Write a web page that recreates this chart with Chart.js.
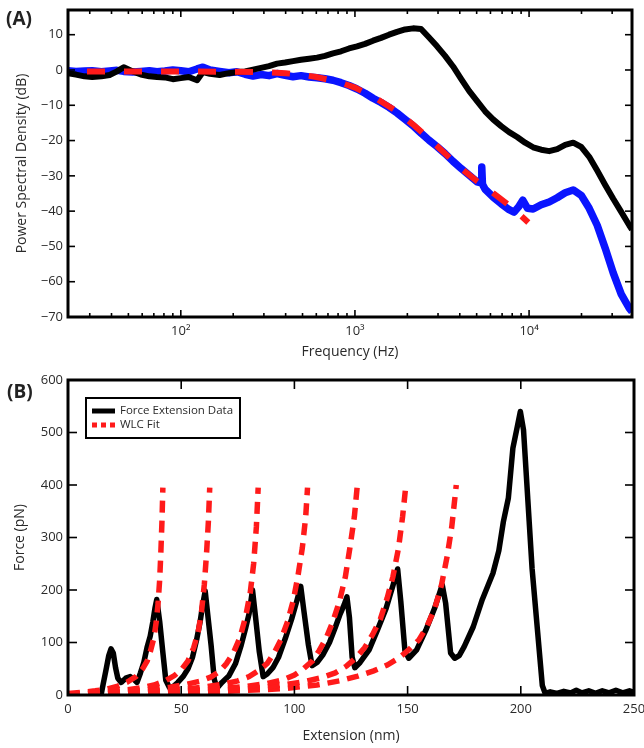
<!DOCTYPE html>
<html>
<head>
<meta charset="utf-8">
<title>PSD and force extension</title>
<script src="https://cdn.jsdelivr.net/npm/chart.js@4.4.1/dist/chart.umd.min.js"></script>
<style>
  html, body { margin: 0; padding: 0; background: #fff; }
  body { width: 644px; height: 748px; position: relative; overflow: hidden; font-family: 'Open Sans', sans-serif; }
  .panel { position: absolute; left: 0; width: 644px; }
  #panelA { top: 0; height: 370px; }
  #panelB { top: 370px; height: 378px; }
  .tag { position: absolute; font-weight: bold; font-size: 19px; line-height: 20px; color: #222; }
</style>
</head>
<body>
<div class="panel" id="panelA"><canvas id="psdChart" width="644" height="370"></canvas></div>
<div class="panel" id="panelB"><canvas id="forceChart" width="644" height="378"></canvas></div>
<div class="tag" style="left:6px; top:8px">(A)</div>
<div class="tag" style="left:7px; top:381px">(B)</div>
<script>
'use strict';

// --- panel A: power spectral density ---
const blackFreq = [22.5, 25, 28, 31, 35, 39, 43, 47, 53, 59, 66, 73, 81, 90, 100, 111, 124, 134, 147, 167,
    189, 210, 234, 260, 289, 321, 357, 397, 441, 490, 545, 606, 673, 748, 832, 925, 1028, 1143, 1270, 1412,
    1570, 1745, 1940, 2156, 2397, 2665, 2962, 3293, 3661, 4070, 4524, 5030, 5591, 6216, 6910, 7682, 8540, 9493, 10553, 11732,
    13042, 14499, 16118, 17918, 19919, 22143, 24616, 27365, 30421, 33818, 37595, 39000];
const blackDb = [-0.9, -1.3, -1.8, -2.0, -1.8, -1.4, -0.4, 0.8, -0.4, -1.3, -1.8, -2.0, -2.1, -2.6, -2.3, -2.0, -2.9, -0.6, -1.1, -1.4,
    -0.9, -0.6, -0.4, 0.1, 0.6, 1.1, 1.8, 2.1, 2.5, 2.9, 3.2, 3.5, 4.0, 4.7, 5.3, 6.1, 6.7, 7.4, 8.3, 9.1,
    10.0, 10.8, 11.5, 11.8, 11.6, 9.2, 6.7, 4.0, 1.0, -2.5, -5.9, -8.8, -11.7, -14.0, -15.9, -17.6, -19.0, -20.6, -21.9, -22.6,
    -23.0, -22.4, -21.2, -20.6, -21.8, -24.6, -28.5, -32.6, -36.5, -40.2, -44.0, -45.2];

const blueFreq = [22.5, 25, 28, 31, 35, 39, 43, 47, 53, 59, 66, 73, 81, 90, 100, 111, 124, 134, 147, 167,
    189, 210, 234, 260, 289, 321, 357, 397, 441, 490, 545, 606, 673, 748, 832, 925, 1028, 1143, 1270, 1412,
    1570, 1745, 1940, 2156, 2397, 2665, 2962, 3293, 3661, 4070, 4524, 5030, 5300, 5350, 5400, 5591, 6216, 6910, 7682, 8200,
    8700, 9200, 9800, 10553, 11732, 13042, 14499, 16118, 17918, 19919, 22143, 24616, 27365, 30421, 33818, 37595, 39000];
const blueDb = [-0.2, -0.4, -0.3, -0.2, -0.5, -0.3, -0.1, -0.4, -0.6, -0.4, -0.2, -0.5, -0.3, 0.0, -0.2, -0.5, 0.3, 0.8, 0.0, -0.4,
    -0.8, -0.5, -1.2, -1.7, -1.3, -1.6, -1.0, -1.5, -1.9, -1.6, -2.0, -2.2, -2.5, -2.9, -3.6, -4.4, -5.4, -6.6, -8.0, -9.2,
    -10.6, -12.2, -14.0, -15.8, -17.9, -19.9, -21.7, -23.7, -25.9, -27.9, -29.8, -31.7, -32.0, -27.5, -32.4, -33.8, -36.0, -37.9, -39.6, -40.3,
    -38.8, -36.9, -39.2, -39.4, -38.2, -37.4, -36.2, -34.8, -34.0, -35.5, -39.2, -44.0, -50.5, -57.5, -63.5, -67.5, -68.5];

const fitFreq = [22.5, 50, 100, 200, 300, 400, 500, 600, 800, 1000, 1300, 1700, 2200, 3000, 4000, 5000, 6500, 8000, 9900];
const fitDb = [-0.4, -0.4, -0.4, -0.5, -0.6, -0.9, -1.4, -2.0, -3.3, -5.0, -7.8, -11.4, -15.8, -21.8, -27.6, -31.4, -35.6, -39.0, -43.2];

const freqTicks = [100, 1000, 10000];
const psdTicks = [-70, -60, -50, -40, -30, -20, -10, 0, 10];

// --- panel B: force extension ---
const forceData = [[14.6, 0], [15.5, 20], [16.8, 48], [18, 75], [19, 88], [20, 80], [21, 52], [22, 32], [23.5, 24], [25.5, 32],
    [27.5, 35], [29, 30], [30.5, 24], [32, 42], [33.5, 62], [35, 92], [36.3, 112], [37.5, 140], [38.4, 165], [39.2, 182],
    [40.5, 140], [41.8, 85], [43.2, 28], [44.8, 14], [46.5, 16], [48.5, 24], [51, 36], [53, 50], [55, 72], [56.8, 105],
    [58.3, 138], [59.5, 172], [60.6, 198], [61.8, 150], [63.2, 95], [64.6, 30], [65.8, 13], [68, 24], [71, 36], [74, 60],
    [76.5, 95], [78.5, 128], [80, 155], [81.5, 200], [82.8, 150], [84.5, 82], [86.2, 35], [88, 40], [90.5, 52], [93, 72],
    [96, 108], [98.8, 145], [101, 178], [102.8, 207], [104.2, 160], [106.2, 95], [107.8, 56], [110, 62], [112.5, 76], [115.5, 100],
    [118, 128], [120, 152], [122, 172], [123.2, 187], [124.3, 148], [125.5, 72], [126.7, 52], [129, 62], [133, 86], [136.7, 124],
    [140.5, 165], [143.5, 208], [145.6, 240], [147, 178], [148.8, 85], [150.5, 70], [154, 86], [158, 123], [162, 166], [165.3, 210],
    [166.8, 175], [169, 80], [170.8, 70], [172.8, 75], [175, 92], [179, 130], [183, 182], [187.7, 232], [190.3, 275], [192.3, 330],
    [194.5, 375], [196.5, 470], [198.4, 510], [199.8, 540], [201.2, 505], [205, 240], [209.5, 18], [210.8, 3], [213, 6], [216, 3],
    [219, 7], [222, 4], [224.5, 9], [227, 4], [230, 8], [233, 3], [236, 8], [239, 4], [242, 9], [245, 4], [248, 8], [250, 5]];

const wlc1 = [[0, 3], [6, 5], [12, 8], [17, 11], [22, 17], [26, 24], [30, 35], [33, 50], [35, 65], [36.5, 85], [38, 110],
    [39, 140], [39.8, 175], [40.5, 220], [41, 270], [41.5, 330], [41.9, 395]];
const wlc2 = [[0, 2], [15, 5], [25, 9], [33, 14], [38, 19], [43, 27], [47, 37], [50, 48], [53, 65], [55.5, 90], [57.5, 120],
    [59, 160], [60.2, 210], [61.2, 270], [62, 330], [62.6, 395]];
const wlc3 = [[0, 1], [20, 5], [35, 10], [45, 15], [52, 20], [58, 26], [63, 34], [67, 45], [70, 60], [73, 80], [76, 110],
    [78.5, 150], [80.5, 195], [82, 250], [83.2, 320], [84, 395]];
const wlc4 = [[0, 1], [30, 5], [50, 10], [60, 15], [68, 20], [75, 27], [80, 35], [84, 46], [88, 60], [91, 80], [94, 105],
    [97, 140], [99.5, 180], [101.5, 225], [103.5, 280], [105, 340], [105.8, 395]];
const wlc5 = [[0, 1], [40, 5], [65, 11], [78, 16], [88, 22], [95, 29], [100, 38], [104, 50], [108, 65], [111, 85], [114, 108],
    [117, 140], [120, 180], [122.5, 225], [124.5, 280], [126.5, 340], [127.8, 400]];
const wlc6 = [[0, 1], [50, 5], [80, 12], [95, 19], [105, 26], [112, 33], [118, 42], [123, 55], [127, 70], [131, 90], [134.5, 115],
    [138, 145], [141, 185], [143.5, 225], [146, 280], [147.8, 340], [149, 390]];
const wlc7 = [[0, 1], [60, 5], [95, 12], [110, 19], [120, 27], [128, 36], [135, 46], [141, 57], [146, 70], [151, 88], [155, 105],
    [158.5, 130], [162, 165], [165, 210], [167.5, 265], [169.5, 320], [171.5, 400]];

const extTicks = [0, 50, 100, 150, 200, 250];
const forceTicks = [0, 100, 200, 300, 400, 500, 600];

// --- helpers ---
const FONT = "'Open Sans', sans-serif";
const TEXT = '#2a2a2a';
const SUP = { '0': '\u2070', '1': '\u00b9', '2': '\u00b2', '3': '\u00b3', '4': '\u2074', '5': '\u2075', '6': '\u2076', '7': '\u2077', '8': '\u2078', '9': '\u2079' };
const decadeLabel = v => '10' + String(Math.round(Math.log10(v))).split('').map(c => SUP[c]).join('');
const minusLabel = v => (v < 0 ? '\u2212' + Math.abs(v) : String(v));
const toPoints = (xs, ys) => xs.map((x, i) => ({ x: x, y: ys[i] }));
const pairsToPoints = pairs => pairs.map(p => ({ x: p[0], y: p[1] }));

// box round the plot area with inward tick marks on all four sides
const framePlugin = {
    id: 'frame',
    afterDatasetsDraw(chart, args, opts) {
        const { ctx, chartArea: a, scales } = chart;
        const line = (x1, y1, x2, y2) => { ctx.beginPath(); ctx.moveTo(x1, y1); ctx.lineTo(x2, y2); ctx.stroke(); };
        ctx.save();
        ctx.strokeStyle = '#000';
        ctx.lineWidth = 1.6;
        scales.x.ticks.forEach(t => {
            const px = scales.x.getPixelForValue(t.value);
            line(px, a.bottom, px, a.bottom - opts.major);
            line(px, a.top, px, a.top + opts.major);
        });
        (opts.minorX || []).forEach(v => {
            const px = scales.x.getPixelForValue(v);
            if (px < a.left + 1 || px > a.right - 1) return;
            line(px, a.bottom, px, a.bottom - opts.minor);
            line(px, a.top, px, a.top + opts.minor);
        });
        scales.y.ticks.forEach(t => {
            const py = scales.y.getPixelForValue(t.value);
            line(a.left, py, a.left + opts.major, py);
            line(a.right, py, a.right - opts.major, py);
        });
        ctx.lineWidth = 3;
        ctx.strokeRect(a.left, a.top, a.right - a.left, a.bottom - a.top);
        ctx.restore();
    }
};

// boxed legend drawn inside the plot area
const boxLegendPlugin = {
    id: 'boxLegend',
    afterDraw(chart, args, opts) {
        if (!opts.display) return;
        const { ctx, chartArea: a } = chart;
        const items = chart.data.datasets.filter(d => d.legendEntry);
        const x = a.left + 18, y = a.top + 18, w = 154, h = 40;
        ctx.save();
        ctx.fillStyle = '#fff';
        ctx.fillRect(x, y, w, h);
        ctx.strokeStyle = '#000';
        ctx.lineWidth = 2;
        ctx.strokeRect(x, y, w, h);
        ctx.font = '11.5px ' + FONT;
        ctx.textBaseline = 'middle';
        items.forEach((d, i) => {
            const cy = y + 13 + i * 14;
            ctx.strokeStyle = d.borderColor;
            ctx.lineWidth = 5;
            ctx.setLineDash(d.borderDash && d.borderDash.length ? [5, 4] : []);
            ctx.beginPath();
            ctx.moveTo(x + 6, cy);
            ctx.lineTo(x + 29, cy);
            ctx.stroke();
            ctx.setLineDash([]);
            ctx.fillStyle = TEXT;
            ctx.fillText(d.label, x + 34, cy);
        });
        ctx.restore();
    }
};

function axisStyle(extra) {
    return Object.assign({
        grid: { display: false, drawTicks: false },
        border: { display: false },
        ticks: { font: { family: FONT, size: 13 }, color: TEXT, autoSkip: false, maxRotation: 0 }
    }, extra);
}

Chart.defaults.font.family = FONT;

// --- chart A ---
const minorFreq = [];
[10, 100, 1000, 10000].forEach(d => { for (let m = 2; m <= 9; m++) minorFreq.push(d * m); });

new Chart(document.getElementById('psdChart'), {
    type: 'line',
    data: {
        datasets: [
            { label: 'Fit', data: toPoints(fitFreq, fitDb), borderColor: '#ff1a1a', borderWidth: 6, borderDash: [18, 19], borderDashOffset: 18, order: 0 },
            { label: 'Black', data: toPoints(blackFreq, blackDb), borderColor: '#000', borderWidth: 6, borderJoinStyle: 'round', order: 1 },
            { label: 'Blue', data: toPoints(blueFreq, blueDb), borderColor: '#0a14ff', borderWidth: 7.5, borderJoinStyle: 'round', order: 2 }
        ]
    },
    options: {
        responsive: false,
        animation: false,
        elements: { point: { radius: 0 }, line: { tension: 0 } },
        layout: { padding: { left: 0, right: 12, top: 10, bottom: 0 } },
        plugins: { legend: { display: false }, tooltip: { enabled: false }, frame: { major: 7, minor: 4, minorX: minorFreq }, boxLegend: { display: false } },
        scales: {
            x: axisStyle({
                type: 'logarithmic', min: 22.5, max: 39000,
                afterBuildTicks: s => { s.ticks = freqTicks.map(v => ({ value: v })); },
                ticks: { font: { family: FONT, size: 13 }, color: TEXT, padding: 6, autoSkip: false, maxRotation: 0, callback: v => decadeLabel(v) },
                title: { display: true, text: 'Frequency (Hz)', color: TEXT, font: { family: FONT, size: 14 }, padding: { top: 0, bottom: 10 } },
                afterFit: s => { s.height = 53; s.paddingLeft = 0; s.paddingRight = 0; }
            }),
            y: axisStyle({
                type: 'linear', min: -70, max: 17,
                afterBuildTicks: s => { s.ticks = psdTicks.map(v => ({ value: v })); },
                ticks: { font: { family: FONT, size: 13 }, color: TEXT, padding: 5, callback: v => minusLabel(v) },
                title: { display: true, text: 'Power Spectral Density (dB)', color: TEXT, font: { family: FONT, size: 14 }, padding: { top: 14, bottom: 0 } },
                afterFit: s => { s.width = 68; s.paddingTop = 0; s.paddingBottom = 0; }
            })
        }
    },
    plugins: [framePlugin, boxLegendPlugin]
});

// --- chart B ---
const wlcCurves = [wlc1, wlc2, wlc3, wlc4, wlc5, wlc6, wlc7];
const forceDatasets = [
    { label: 'Force Extension Data', legendEntry: true, data: pairsToPoints(forceData), borderColor: '#000', borderWidth: 5.5, borderJoinStyle: 'round', order: 1 }
];
wlcCurves.forEach((c, i) => {
    forceDatasets.push({
        label: 'WLC Fit', legendEntry: i === 0, data: pairsToPoints(c),
        borderColor: '#ff1a1a', borderWidth: 5.5, borderDash: [12, 8], order: 0
    });
});

new Chart(document.getElementById('forceChart'), {
    type: 'line',
    data: { datasets: forceDatasets },
    options: {
        responsive: false,
        animation: false,
        elements: { point: { radius: 0 }, line: { tension: 0 } },
        layout: { padding: { left: 0, right: 10, top: 10, bottom: 0 } },
        plugins: { legend: { display: false }, tooltip: { enabled: false }, frame: { major: 9, minor: 0 }, boxLegend: { display: true } },
        scales: {
            x: axisStyle({
                type: 'linear', min: 0, max: 250,
                afterBuildTicks: s => { s.ticks = extTicks.map(v => ({ value: v })); },
                ticks: { font: { family: FONT, size: 13 }, color: TEXT, padding: 6, autoSkip: false, maxRotation: 0 },
                title: { display: true, text: 'Extension (nm)', color: TEXT, font: { family: FONT, size: 14 }, padding: { top: 0, bottom: 4 } },
                afterFit: s => { s.height = 53; s.paddingLeft = 0; s.paddingRight = 0; }
            }),
            y: axisStyle({
                type: 'linear', min: 0, max: 600,
                afterBuildTicks: s => { s.ticks = forceTicks.map(v => ({ value: v })); },
                ticks: { font: { family: FONT, size: 13 }, color: TEXT, padding: 5 },
                title: { display: true, text: 'Force (pN)', color: TEXT, font: { family: FONT, size: 14 }, padding: { top: 12, bottom: 0 } },
                afterFit: s => { s.width = 68; s.paddingTop = 0; s.paddingBottom = 0; }
            })
        }
    },
    plugins: [framePlugin, boxLegendPlugin]
});
</script>
</body>
</html>
